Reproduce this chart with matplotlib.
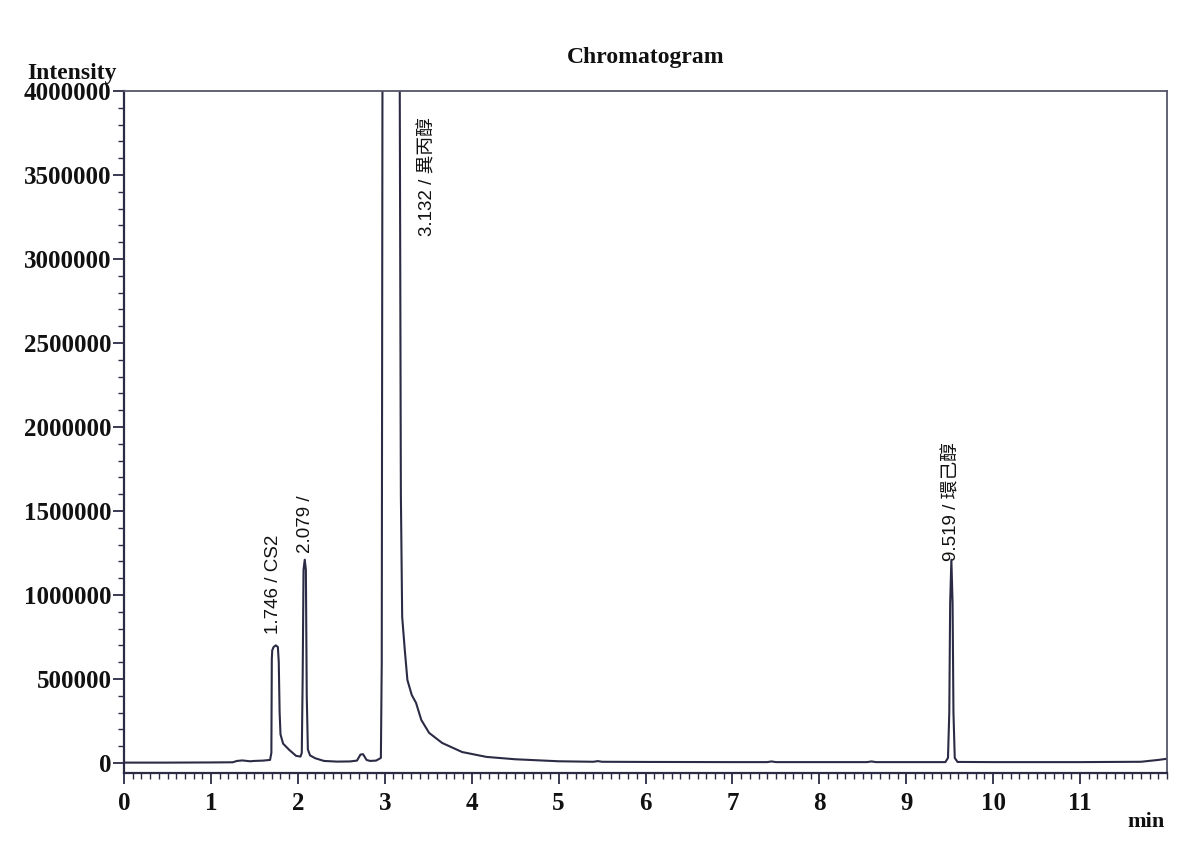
import numpy as np
import matplotlib
matplotlib.use("Agg")
import matplotlib.pyplot as plt
from matplotlib.ticker import MultipleLocator, FuncFormatter

# trace: retention time (min) and intensity
times = [0.0, 0.5, 1.0, 1.25, 1.30, 1.36, 1.45, 1.50, 1.60, 1.68, 1.695, 1.700, 1.705,
         1.72, 1.746, 1.77, 1.78, 1.79, 1.80, 1.83, 1.90, 1.98, 2.03, 2.045, 2.055,
         2.065, 2.079, 2.092, 2.102, 2.115, 2.14, 2.20, 2.30, 2.45, 2.60, 2.68, 2.72,
         2.75, 2.79, 2.83, 2.90, 2.955, 2.965, 2.975, 3.132, 3.168, 3.185, 3.20, 3.23,
         3.26, 3.31, 3.36, 3.42, 3.51, 3.66, 3.89, 4.17, 4.50, 5.00, 5.40, 5.45,
         5.50, 6.00, 7.00, 7.40, 7.45, 7.50, 8.00, 8.55, 8.60, 8.65, 9.00, 9.45,
         9.48, 9.495, 9.505, 9.519, 9.533, 9.543, 9.558, 9.59, 10.0, 11.0, 11.7,
         11.9, 12.0]
intensity = [2000, 2000, 3000, 4000, 12000, 15000, 10000, 12000, 14000, 18000, 60000,
             620000, 670000, 690000, 700000, 690000, 600000, 300000, 170000, 115000,
             78000, 42000, 38000, 60000, 500000, 1150000, 1210000, 1150000, 400000,
             80000, 45000, 28000, 12000, 8000, 9000, 14000, 50000, 52000, 18000, 12000,
             14000, 30000, 600000, 4800000, 9000000, 4800000, 1600000, 870000, 673000,
             494000, 405000, 357000, 256000, 179000, 119000, 65000, 36000, 22000, 10000,
             7000, 11000, 7000, 6000, 5000, 5000, 9000, 5000, 5000, 5000, 9000, 5000,
             5000, 5000, 30000, 300000, 950000, 1210000, 950000, 300000, 30000, 6000,
             5000, 5000, 7000, 18000, 25000]

# peak annotations: text, x, y (data units)
peak_labels = ["1.746 / CS2", "2.079 /", "3.132 / 異丙醇", "9.519 / 環己醇"]
label_x = [1.72, 2.09, 3.49, 9.52]
label_y = [770000, 1250000, 3140000, 1200000]

x_ticks = list(range(0, 12))
y_ticks = list(range(0, 4000001, 500000))

ink = "#2b2b45"
num_font = "Liberation Serif"

fig = plt.figure(figsize=(11.77, 8.43), dpi=100)
ax = fig.add_axes([0.1054, 0.083, 0.8861, 0.809])

ax.plot(times, intensity, color=ink, lw=1.5)

ax.set_xlim(0, 12)
ax.set_ylim(-60000, 4000000)
ax.set_xticks(x_ticks)
ax.set_yticks(y_ticks)
ax.xaxis.set_minor_locator(MultipleLocator(0.1))
ax.yaxis.set_minor_locator(MultipleLocator(100000))
ax.yaxis.set_major_formatter(FuncFormatter(lambda v, p: f"{int(v)}"))
ax.tick_params(which="major", direction="out", length=8, width=1.3, color=ink,
               labelsize=18, pad=1)
ax.tick_params(axis="x", which="major", pad=6)
ax.tick_params(which="minor", direction="out", length=4, width=1.0, color=ink)
for lab in ax.get_xticklabels() + ax.get_yticklabels():
    lab.set_fontfamily(num_font)
    lab.set_fontweight("bold")
    lab.set_color("#111111")

for side in ["left", "bottom"]:
    ax.spines[side].set_color(ink)
    ax.spines[side].set_linewidth(1.6)
for side in ["top", "right"]:
    ax.spines[side].set_color("#55556a")
    ax.spines[side].set_linewidth(1.3)

for txt, px, py in zip(peak_labels, label_x, label_y):
    ax.text(px, py, txt, rotation=90, ha="center", va="bottom", fontsize=13.5,
            family=["Liberation Sans", "Noto Sans CJK TC"], color="#111111")

ax.set_title("Chromatogram", fontsize=17, fontfamily=num_font, fontweight="bold",
             pad=20, color="#111111")
fig.text(0.061, 0.913, "Intensity", ha="center", va="center", fontsize=17,
         fontfamily=num_font, fontweight="bold", color="#111111")
fig.text(0.974, 0.025, "min", ha="center", va="center", fontsize=16,
         fontfamily=num_font, fontweight="bold", color="#111111")

fig.savefig("out.png", dpi=100)
